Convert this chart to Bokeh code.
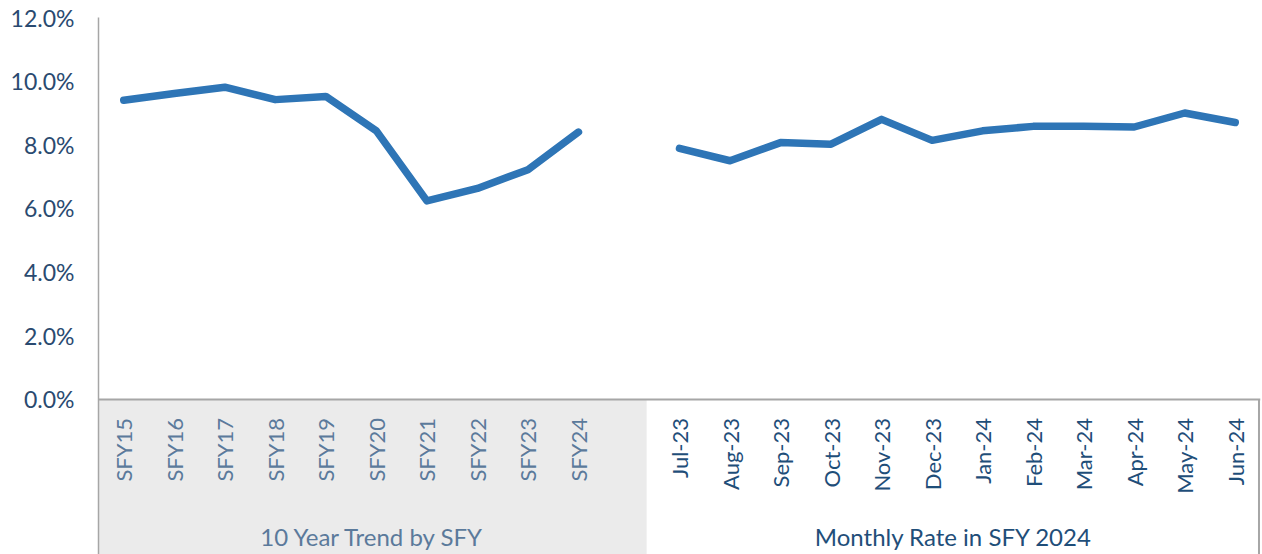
import math
from bokeh.plotting import figure
from bokeh.models import Range1d, FixedTicker, Span, Label
from bokeh.core.properties import value
from bokeh.embed import file_html
from bokeh.resources import INLINE

# ---- data ----
sfy_labels = ["SFY15", "SFY16", "SFY17", "SFY18", "SFY19", "SFY20", "SFY21", "SFY22", "SFY23", "SFY24"]
sfy_rates = [9.40, 9.61, 9.81, 9.42, 9.52, 8.44, 6.24, 6.63, 7.22, 8.40]
month_labels = ["Jul-23", "Aug-23", "Sep-23", "Oct-23", "Nov-23", "Dec-23",
                "Jan-24", "Feb-24", "Mar-24", "Apr-24", "May-24", "Jun-24"]
month_rates = [7.89, 7.50, 8.07, 8.02, 8.80, 8.14, 8.44, 8.58, 8.58, 8.56, 9.00, 8.70]
group_labels = ["10 Year Trend by SFY", "Monthly Rate in SFY 2024"]
y_ticks = [0, 2, 4, 6, 8, 10, 12]

FONT = "Lato"
LINE_COLOR = "#2E75B6"
DARK = "#1F4E79"
MUTED = "#5B7A9B"
AXIS_GRAY = "#A6A6A6"

# category slots: 10 SFY, one blank slot, 12 months
sfy_x = [i + 0.5 for i in range(len(sfy_labels))]
month_x = [len(sfy_labels) + 1 + i + 0.5 for i in range(len(month_labels))]

X_END = 23.0
Y_START = -4.87
Y_END = 12.0
BAND_END = 10.85

p = figure(width=1262, height=554, output_backend="svg", toolbar_location=None,
           x_range=Range1d(0, X_END), y_range=Range1d(Y_START, Y_END),
           min_border_left=98, min_border_right=2, min_border_top=17, min_border_bottom=0)
p.outline_line_color = None
p.xgrid.visible = False
p.ygrid.visible = False
p.xaxis.visible = False
p.background_fill_color = "white"
p.border_fill_color = "white"

# y axis
p.yaxis.ticker = FixedTicker(ticks=y_ticks)
p.yaxis.major_label_overrides = {t: f"{t:.1f}%" for t in y_ticks}
p.yaxis.major_tick_line_color = None
p.yaxis.minor_tick_line_color = None
p.yaxis.axis_line_color = AXIS_GRAY
p.yaxis.axis_line_width = 1.5
p.yaxis.major_label_text_font = FONT
p.yaxis.major_label_text_font_size = "23px"
p.yaxis.major_label_text_color = "#2A4A70"
p.yaxis.major_label_standoff = 18

# gray band under the SFY group
p.quad(left=[0], right=[BAND_END], bottom=[Y_START], top=[0], fill_color="#EBEBEB", line_color=None)

# horizontal axis line and right border in the label area
p.add_layout(Span(location=0, dimension="width", line_color=AXIS_GRAY, line_width=2))
p.segment(x0=[X_END - 0.03], y0=[0], x1=[X_END - 0.03], y1=[Y_START], line_color=AXIS_GRAY, line_width=2)

# category tick labels (vertical)
p.text(x=sfy_x, y=[-0.58] * len(sfy_x), text=sfy_labels, angle=math.pi / 2,
       text_align="right", text_baseline="middle", text_font=value(FONT),
       text_font_size="22px", text_color=MUTED)
p.text(x=month_x, y=[-0.58] * len(month_x), text=month_labels, angle=math.pi / 2,
       text_align="right", text_baseline="middle", text_font=value(FONT),
       text_font_size="22px", text_color=DARK)

# group labels
p.add_layout(Label(x=BAND_END / 2, y=-4.3, text=group_labels[0], text_align="center",
                   text_baseline="middle", text_font=FONT, text_font_size="24px", text_color=MUTED))
p.add_layout(Label(x=(BAND_END + X_END) / 2, y=-4.3, text=group_labels[1], text_align="center",
                   text_baseline="middle", text_font=FONT, text_font_size="24px", text_color=DARK))

# data lines
p.line(sfy_x, sfy_rates, line_color=LINE_COLOR, line_width=7.5, line_cap="round", line_join="round")
p.line(month_x, month_rates, line_color=LINE_COLOR, line_width=7.5, line_cap="round", line_join="round")

open("out.html", "w").write(file_html(p, INLINE))
